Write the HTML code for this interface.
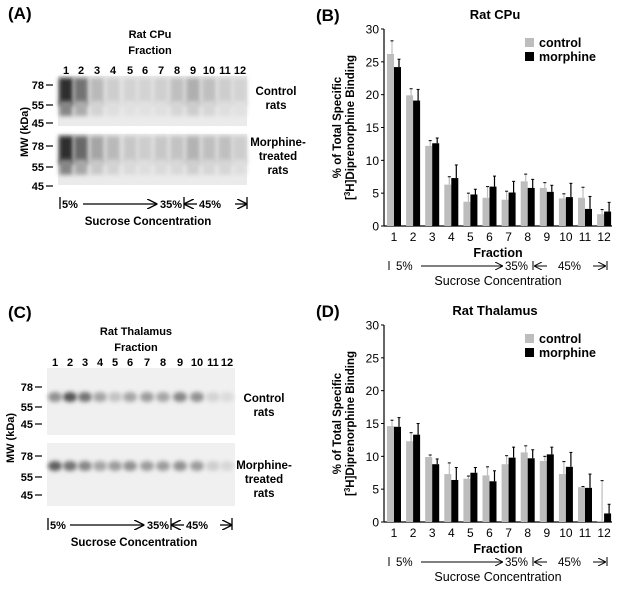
<!DOCTYPE html>
<html><head><meta charset="utf-8"><style>
html,body{margin:0;padding:0;background:#fff}
svg{display:block;font-family:"Liberation Sans",Arial,sans-serif}
</style></head><body>
<svg id="fig" width="617" height="594" viewBox="0 0 617 594">
<defs>
<filter id="blur2" x="-50%" y="-50%" width="200%" height="200%"><feGaussianBlur stdDeviation="2.2"/></filter>
<marker id="arr" markerWidth="8" markerHeight="8" refX="7" refY="4" orient="auto"><path d="M0,0 L8,4 L0,8" fill="none" stroke="#000" stroke-width="1"/></marker>
</defs>
<g id="panelA"></g>
<g id="panelC"></g>
<g id="panelB"></g>
<g id="panelD"></g>
</svg>
<script>
// ----- chart data -----
const fractions = ["1","2","3","4","5","6","7","8","9","10","11","12"];
const yTicks = [0,5,10,15,20,25,30];
const cpuControl = [26.2,19.9,12.2,6.3,3.7,4.3,4.0,6.8,5.8,4.2,4.3,1.8];
const cpuControlErr = [2.0,1.0,0.8,1.2,1.3,1.7,1.3,1.1,0.8,0.7,1.6,0.7];
const cpuMorphine = [24.2,19.1,12.6,7.3,4.8,6.0,5.1,5.8,5.2,4.4,2.6,2.2];
const cpuMorphineErr = [1.2,1.7,0.8,2.0,0.8,1.6,1.7,1.3,1.0,2.1,1.9,1.4];
const thalControl = [14.6,12.3,9.9,7.3,6.6,7.1,8.8,10.6,9.3,7.3,5.3,0.1];
const thalControlErr = [0.9,1.3,0.3,1.7,0.4,1.3,1.3,1.0,0.7,1.9,0.1,6.2];
const thalMorphine = [14.5,13.3,8.8,6.4,7.5,6.2,9.8,9.7,10.3,8.4,5.2,1.3];
const thalMorphineErr = [1.4,1.7,0.8,1.9,0.8,1.6,1.6,1.3,1.1,2.2,2.1,1.4];
// blot band intensities (0..1)
const cpuCtrlBands = [0.95,0.6,0.25,0.15,0.12,0.12,0.14,0.22,0.3,0.22,0.15,0.12];
const cpuMorBands = [0.95,0.65,0.35,0.25,0.18,0.15,0.18,0.2,0.28,0.22,0.22,0.15];
const thalCtrlBands = [0.45,0.75,0.6,0.35,0.2,0.35,0.4,0.35,0.5,0.45,0.12,0.08];
const thalMorBands = [0.7,0.6,0.5,0.35,0.4,0.45,0.4,0.4,0.45,0.4,0.15,0.1];

const NS="http://www.w3.org/2000/svg";
function mk(parent,tag,attrs,text){const e=document.createElementNS(NS,tag);for(const k in attrs)e.setAttribute(k,attrs[k]);if(text!==undefined)e.textContent=text;parent.appendChild(e);return e;}

function barChart(gid,top,zeroY,title,ctrl,ctrlErr,mor,morErr){
  const g=document.getElementById(gid);
  const x0=384,xEnd=612, pxPerUnit=(zeroY-top)/30;
  const y=v=>zeroY-v*pxPerUnit;
  const xc=i=>394+i*19.1;
  const L=gid==='panelB'?'(B)':'(D)';
  let t;
  t=mk(g,'text',{x:316,y:top-8,'font-size':17,'font-weight':'bold'},L);
  
  
  t=mk(g,'text',{x:495,y:top-10,'font-size':13,'font-weight':'bold','text-anchor':'middle'},title);
  
  
  let ax=mk(g,'line',{x1:x0,y1:top,x2:x0,y2:zeroY,stroke:'#000','stroke-width':1.2});
  
  
  ax=mk(g,'line',{x1:x0,y1:zeroY,x2:xEnd,y2:zeroY,stroke:'#000','stroke-width':1.2});
  
  
  yTicks.forEach(v=>{
    mk(g,'line',{x1:x0-3,y1:y(v),x2:x0,y2:y(v),stroke:'#000'});
    const tl=mk(g,'text',{x:x0-5,y:y(v)+4.5,'font-size':12,'text-anchor':'end'},String(v));
    
    
  });
  const yl=mk(g,'text',{transform:`translate(341,${(top+zeroY)/2}) rotate(-90)`,'font-size':11.5,'font-weight':'bold','text-anchor':'middle'},'% of Total Specific');
  
  
  const yl2=mk(g,'text',{transform:`translate(354,${(top+zeroY)/2}) rotate(-90)`,'font-size':11.5,'font-weight':'bold','text-anchor':'middle'});
  
  
  mk(yl2,'tspan',{},'[');
  mk(yl2,'tspan',{'font-size':8,dy:-4},'3');
  mk(yl2,'tspan',{dy:4},'H]Diprenorphine Binding');
  fractions.forEach((f,i)=>{
    const c=xc(i);
    const bw=7;
    const b1=mk(g,'rect',{x:c-bw,y:y(ctrl[i]),width:bw,height:zeroY-y(ctrl[i]),fill:'#bdbdbd'});
    
    
    const e1=y(ctrl[i]+ctrlErr[i]);
    mk(g,'line',{x1:c-bw/2+1.5,y1:y(ctrl[i]),x2:c-bw/2+1.5,y2:e1,stroke:'#bdbdbd','stroke-width':1.2});
    mk(g,'line',{x1:c-bw/2,y1:e1,x2:c-bw/2+3,y2:e1,stroke:'#000','stroke-width':1});
    const b2=mk(g,'rect',{x:c,y:y(mor[i]),width:bw,height:zeroY-y(mor[i]),fill:'#000'});
    
    
    const e2=y(mor[i]+morErr[i]);
    mk(g,'line',{x1:c+bw/2+1.5,y1:y(mor[i]),x2:c+bw/2+1.5,y2:e2,stroke:'#000','stroke-width':1.2});
    mk(g,'line',{x1:c+bw/2,y1:e2,x2:c+bw/2+3,y2:e2,stroke:'#000','stroke-width':1});
    const xl=mk(g,'text',{x:c,y:zeroY+15,'font-size':12,'text-anchor':'middle'},f);
    
    
  });
  t=mk(g,'text',{x:498,y:zeroY+31,'font-size':12.5,'font-weight':'bold','text-anchor':'middle'},'Fraction');
  
  
  const lgY=top+14;
  let s=mk(g,'rect',{x:525,y:lgY-5,width:9,height:9,fill:'#bdbdbd'});
  
  
  t=mk(g,'text',{x:539,y:lgY+4,'font-size':12.5,'font-weight':'bold'},'control');
  
  
  s=mk(g,'rect',{x:525,y:lgY+9,width:9,height:9,fill:'#000'});
  
  
  t=mk(g,'text',{x:539,y:lgY+18,'font-size':12.5,'font-weight':'bold'},'morphine');
  
  
  const ry=zeroY+40;
  mk(g,'line',{x1:389,y1:ry-5,x2:389,y2:ry+4,stroke:'#000'});
  mk(g,'text',{x:396,y:ry+4,'font-size':11.5},'5%');
  mk(g,'line',{x1:421,y1:ry,x2:502,y2:ry,stroke:'#000','marker-end':'url(#arr)'});
  mk(g,'text',{x:505,y:ry+4,'font-size':11.5},'35%');
  mk(g,'line',{x1:533,y1:ry-5,x2:533,y2:ry+4,stroke:'#000'});
  mk(g,'line',{x1:547,y1:ry,x2:535,y2:ry,stroke:'#000','marker-end':'url(#arr)'});
  mk(g,'text',{x:558,y:ry+4,'font-size':11.5},'45%');
  mk(g,'line',{x1:593,y1:ry,x2:605,y2:ry,stroke:'#000','marker-end':'url(#arr)'});
  mk(g,'line',{x1:607,y1:ry-5,x2:607,y2:ry+4,stroke:'#000'});
  t=mk(g,'text',{x:498,y:ry+19,'font-size':12.5,'text-anchor':'middle'},'Sucrose Concentration');
  
  
}
barChart('panelB',29,226,'Rat CPu',cpuControl,cpuControlErr,cpuMorphine,cpuMorphineErr);
barChart('panelD',325,522,'Rat Thalamus',thalControl,thalControlErr,thalMorphine,thalMorphineErr);

function blot(gid,cfg){
  const g=document.getElementById(gid);
  let t=mk(g,'text',{x:cfg.labelX,y:cfg.labelY,'font-size':17,'font-weight':'bold'},cfg.label);
  
  
  t=mk(g,'text',{x:cfg.titleX,y:cfg.titleY,'font-size':11,'font-weight':'bold','text-anchor':'middle'},cfg.title);
  
  
  t=mk(g,'text',{x:cfg.titleX,y:cfg.titleY+16,'font-size':11,'font-weight':'bold','text-anchor':'middle'},'Fraction');
  
  
  cfg.lanes.forEach((lx,i)=>{
    const l=mk(g,'text',{x:lx,y:cfg.laneY,'font-size':11,'font-weight':'bold','text-anchor':'middle'},fractions[i]);
    
    
  });
  cfg.panels.forEach((p,pi)=>{
    const r=mk(g,'rect',{x:cfg.x0,y:p.y0,width:cfg.x1-cfg.x0,height:p.y1-p.y0,fill:cfg.bg});
    
    
    const lw=(cfg.x1-cfg.x0)/12;
    p.bands.forEach((v,i)=>{
      const c=cfg.lanes[i];
      const gv=Math.round(235-200*v);
      if(cfg.smear){
        const h=p.y1-p.y0;
        mk(g,'rect',{x:c-lw*0.45,y:p.y0+2,width:lw*0.9,height:h*0.55,fill:`rgb(${gv},${gv},${gv})`,filter:'url(#blur2)'});
        const g2=Math.round(238-110*v);
        mk(g,'rect',{x:c-lw*0.42,y:p.y0+h*0.5,width:lw*0.84,height:h*0.3,fill:`rgb(${g2},${g2},${g2})`,filter:'url(#blur2)'});
      } else {
        mk(g,'ellipse',{cx:c,cy:p.band,rx:lw*0.45,ry:5,fill:`rgb(${gv},${gv},${gv})`,filter:'url(#blur2)'});
      }
    });
    p.marks.forEach(m=>{
      mk(g,'text',{x:cfg.x0-14,y:m[1]+4,'font-size':11,'font-weight':'bold','text-anchor':'end'},m[0]);
      mk(g,'line',{x1:cfg.x0-12,y1:m[1],x2:cfg.x0-5,y2:m[1],stroke:'#000','stroke-width':1.2});
    });
    p.side.forEach((s,k)=>{
      mk(g,'text',{x:p.sideX,y:p.sideY+k*14,'font-size':11.5,'font-weight':'bold','text-anchor':'middle'},s);
    });
  });
  t=mk(g,'text',{transform:`translate(${cfg.mwX},${cfg.mwY}) rotate(-90)`,'font-size':11,'font-weight':'bold','text-anchor':'middle'},'MW (kDa)');
  
  
  const ry=cfg.rowY, s=cfg.row;
  mk(g,'line',{x1:s[0],y1:ry-7,x2:s[0],y2:ry+5,stroke:'#000','stroke-width':1.3});
  mk(g,'text',{x:s[0]+2,y:ry+4,'font-size':11,'font-weight':'bold'},'5%');
  mk(g,'line',{x1:s[1],y1:ry,x2:s[2],y2:ry,stroke:'#000','stroke-width':1.3,'marker-end':'url(#arr)'});
  mk(g,'text',{x:s[2]+4,y:ry+4,'font-size':11,'font-weight':'bold'},'35%');
  mk(g,'line',{x1:s[3],y1:ry-7,x2:s[3],y2:ry+5,stroke:'#000','stroke-width':1.3});
  mk(g,'line',{x1:s[3]+13,y1:ry,x2:s[3]+1,y2:ry,stroke:'#000','stroke-width':1.3,'marker-end':'url(#arr)'});
  mk(g,'text',{x:s[3]+15,y:ry+4,'font-size':11,'font-weight':'bold'},'45%');
  mk(g,'line',{x1:s[4]-12,y1:ry,x2:s[4]-1,y2:ry,stroke:'#000','stroke-width':1.3,'marker-end':'url(#arr)'});
  mk(g,'line',{x1:s[4],y1:ry-7,x2:s[4],y2:ry+5,stroke:'#000','stroke-width':1.3});
  t=mk(g,'text',{x:cfg.titleX-2,y:ry+21,'font-size':11.5,'font-weight':'bold','text-anchor':'middle'},'Sucrose Concentration');
  
  
}
blot('panelA',{label:'(A)',labelX:8,labelY:19,title:'Rat  CPu',titleX:150,titleY:38,laneY:74,
  lanes:[66,81,97,113,130,145,161,177,193,209,225,240],x0:58,x1:247,bg:'#ebebeb',smear:true,
  panels:[{y0:76,y1:126,bands:cpuCtrlBands,marks:[['78',85],['55',105],['45',123]],side:['Control','rats'],sideX:276,sideY:95},
          {y0:134,y1:185,bands:cpuMorBands,marks:[['78',146],['55',167],['45',186]],side:['Morphine-','treated','rats'],sideX:278,sideY:146}],
  mwX:28,mwY:132,rowY:204,row:[60,83,156,184,247]});
blot('panelC',{label:'(C)',labelX:8,labelY:318,title:'Rat Thalamus',titleX:136,titleY:335,laneY:366,
  lanes:[55,70,85,100,115,130,147,163,180,197,213,227],x0:47,x1:235,bg:'#f0f0f0',smear:false,
  panels:[{y0:368,y1:435,band:397,bands:thalCtrlBands,marks:[['78',387],['55',407],['45',424]],side:['Control','rats'],sideX:264,sideY:402},
          {y0:443,y1:506,band:466,bands:thalMorBands,marks:[['78',456],['55',477],['45',495]],side:['Morphine-','treated','rats'],sideX:264,sideY:469}],
  mwX:14,mwY:438,rowY:525,row:[48,70,143,171,232]});
</script>
</body></html>
